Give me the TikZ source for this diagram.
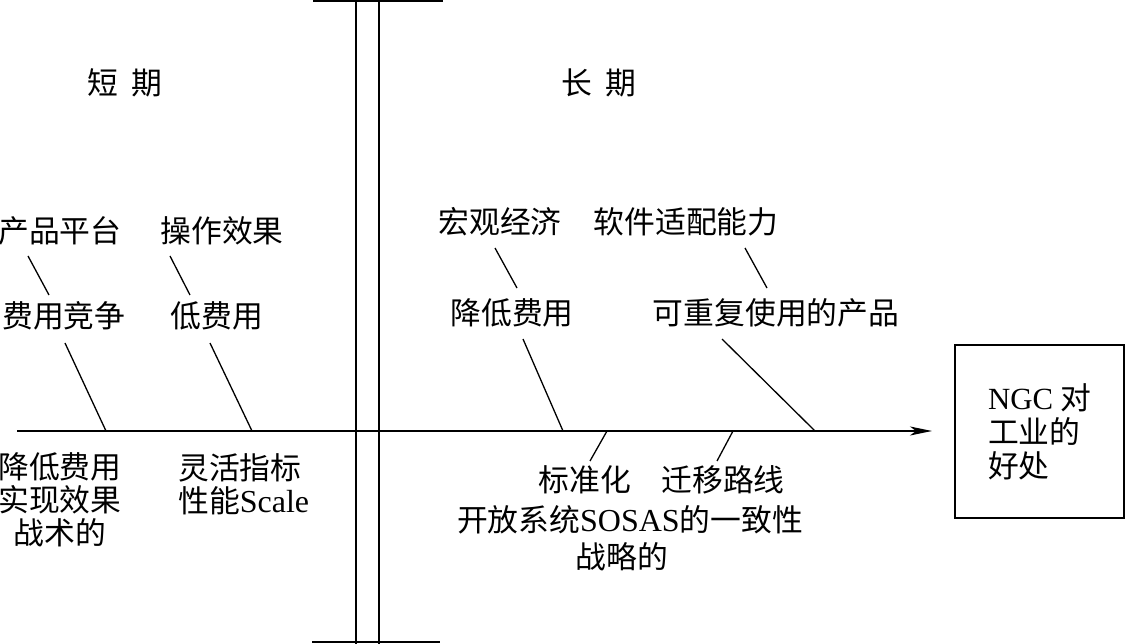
\documentclass[tikz,border=0pt]{standalone}
\usepackage{fontspec}
\setmainfont{Liberation Serif}
\newfontfamily\cjk{Noto Sans CJK SC}
\usetikzlibrary{arrows.meta}
\begin{document}
\begin{tikzpicture}[x=1pt,y=-1pt,
  lbl/.style={font=\cjk\fontsize{30.8}{33}\selectfont, inner sep=0pt, anchor=center},
  conn/.style={line width=1.3pt},
  axis/.style={line width=1.8pt, -{Stealth[length=22pt,width=9pt,inset=6pt]}},
  wall/.style={line width=2.2pt},
  boxst/.style={draw, line width=1.8pt, minimum width=169pt, minimum height=173pt}]
\useasboundingbox (0,0) rectangle (1125,644);
% wall
\draw[wall] (356,0) -- (356,644);
\draw[wall] (379,0) -- (379,644);
\draw[wall] (313,1) -- (443,1);
\draw[wall] (312,642) -- (440,642);
% headings
\node[lbl] (duan) at (125,83) {短\hspace{14pt}期};
\node[lbl] (chang) at (599,83) {长\hspace{14pt}期};
% labels
\node[lbl] (cppt) at (60,231) {产品平台};
\node[lbl] (czxg) at (222,231) {操作效果};
\node[lbl] (fyjz) at (64,316) {费用竞争};
\node[lbl] (dfy) at (217,316) {低费用};
\node[lbl] (hgjj) at (500,222) {宏观经济};
\node[lbl] (rjsp) at (686,222) {软件适配能力};
\node[lbl] (jdfy) at (512,313) {降低费用};
\node[lbl] (kcf) at (776,313) {可重复使用的产品};
\node[lbl, align=center] (zsd) at (60,500) {降低费用\\实现效果\\战术的};
\node[lbl, align=left, anchor=west] (lhzb) at (178,484) {灵活指标\\性能{\rmfamily\fontsize{32}{33}\selectfont Scale}};
\node[lbl] (bzh) at (585,480) {标准化};
\node[lbl] (qylx) at (723,480) {迁移路线};
\node[lbl] (kfxt) at (630,520) {开放系统{\rmfamily\fontsize{32}{33}\selectfont SOSAS}的一致性};
\node[lbl] (zld) at (622,557) {战略的};
% result box
\node[lbl, boxst, align=left, font=\cjk\fontsize{30.8}{34}\selectfont] (box) at (1039.5,431.5)
  {{\rmfamily NGC} 对\\工业的\\好处};
% axis
\coordinate (ms) at (17,431);
\coordinate (me) at (932,431);
\draw[axis] (ms) -- (me);
\coordinate (a1) at (106,431);
\coordinate (a2) at (252,431);
\coordinate (a3) at (563,431);
\coordinate (a4) at (815,431);
\coordinate (a5) at (607,431);
\coordinate (a6) at (733,431);
% connector end points near labels
\coordinate (c1) at (28,256);  \coordinate (c1b) at (49,295);
\coordinate (c2) at (170,256); \coordinate (c2b) at (190,295);
\coordinate (c3) at (65,343);
\coordinate (c4) at (210,343);
\coordinate (c5) at (495,248); \coordinate (c5b) at (517,288);
\coordinate (c6) at (745,248); \coordinate (c6b) at (767,288);
\coordinate (c7) at (523,339);
\coordinate (c8) at (722,339);
\coordinate (c9) at (590,461);
\coordinate (c10) at (717,461);
% connectors
\draw[conn] (c1) -- (c1b);
\draw[conn] (c2) -- (c2b);
\draw[conn] (c3) -- (a1);
\draw[conn] (c4) -- (a2);
\draw[conn] (c5) -- (c5b);
\draw[conn] (c6) -- (c6b);
\draw[conn] (c7) -- (a3);
\draw[conn] (c8) -- (a4);
\draw[conn] (a5) -- (c9);
\draw[conn] (a6) -- (c10);
\end{tikzpicture}
\end{document}
